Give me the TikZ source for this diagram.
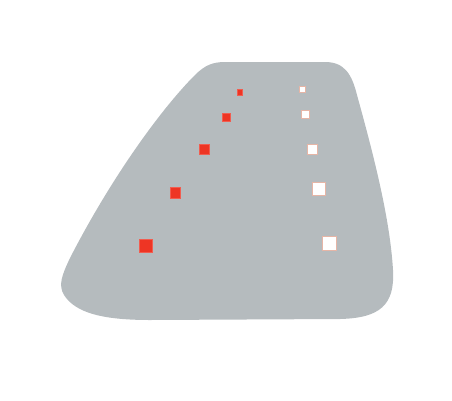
\documentclass[tikz,border=0pt]{standalone}
\begin{document}
\begin{tikzpicture}[x=1pt,y=-1pt,
  redsq/.style={fill=sqred,draw=sqred!80!white,line width=0.4pt,minimum size=#1,inner sep=0pt,shape=rectangle},
  whitesq/.style={fill=white,draw=sqpink,line width=0.5pt,minimum size=#1,inner sep=0pt,shape=rectangle}]
\definecolor{blob}{HTML}{B5BBBE}
\definecolor{sqred}{HTML}{EE3524}
\definecolor{sqpink}{HTML}{E6B5A6}
\useasboundingbox (0,0) rectangle (452,400);
\fill[blob] (225,62) -- (325,62) .. controls (345,62) and (352,75) .. (357,95)
  .. controls (375,160) and (390,220) .. (393,270)
  .. controls (395,305) and (380,318) .. (340,319) -- (150,320)
  .. controls (100,320) and (75,312) .. (64,295)
  .. controls (58,285) and (62,275) .. (70,258)
  .. controls (110,180) and (160,110) .. (195,75)
  .. controls (205,65) and (213,62) .. (225,62) -- cycle;
\node[redsq=5.3pt] (r1) at (240,92.3) {};
\node[redsq=8pt] (r2) at (226,116.7) {};
\node[redsq=10.5pt] (r3) at (204,149) {};
\node[redsq=10.5pt] (r4) at (175.3,192.7) {};
\node[redsq=13pt] (r5) at (145.7,246) {};
\node[whitesq=6pt] (w1) at (302.3,89.3) {};
\node[whitesq=8pt] (w2) at (305.7,114.3) {};
\node[whitesq=10.5pt] (w3) at (312.3,149) {};
\node[whitesq=13pt] (w4) at (319,189) {};
\node[whitesq=14pt] (w5) at (329.3,243.3) {};
\end{tikzpicture}
\end{document}
